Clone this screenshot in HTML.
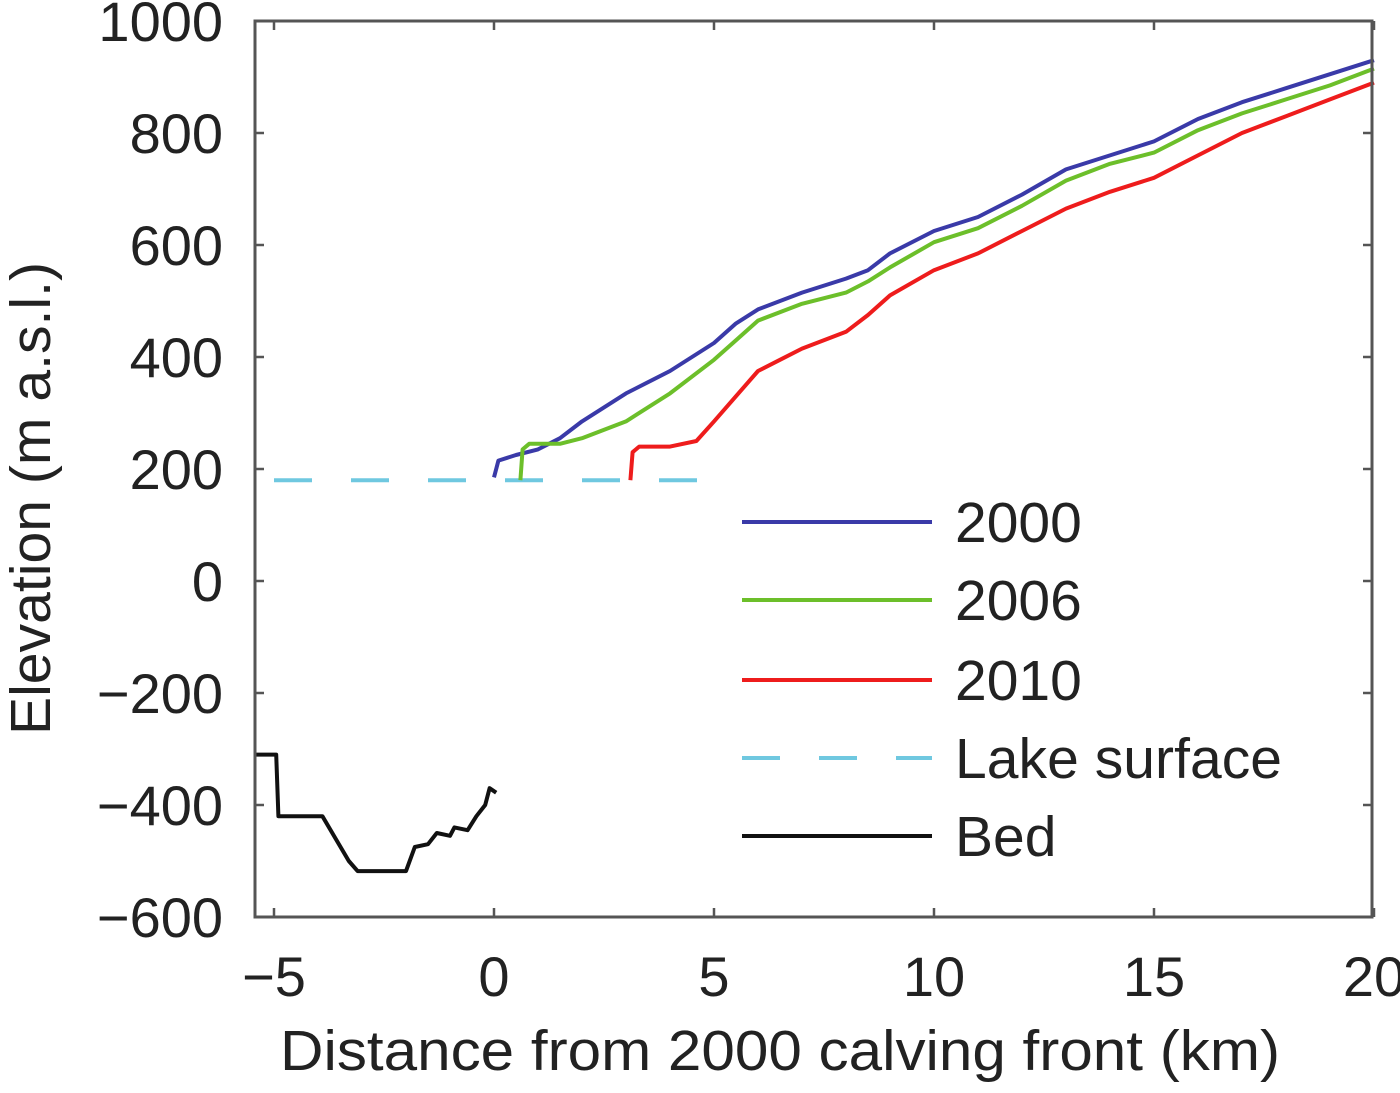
<!DOCTYPE html>
<html><head><meta charset="utf-8"><style>
body{margin:0;background:#fff;}
svg text{font-family:"Liberation Sans",sans-serif;fill:#222;}
</style></head><body>
<svg width="1400" height="1088" viewBox="0 0 1400 1088" xmlns="http://www.w3.org/2000/svg">
<g id="plot"></g>
</svg>
<script>
const xTicks=[-5,0,5,10,15,20];
const yTicks=[1000,800,600,400,200,0,-200,-400,-600];
const s2000x=[0,0.1,0.5,1,1.5,2,3,4,5,5.5,6,7,8,8.5,9,10,11,12,13,14,15,16,17,18,19,20];
const s2000y=[185,215,225,235,255,285,335,375,425,460,485,515,540,555,585,625,650,690,735,760,785,825,855,880,905,930];
const s2006x=[0.6,0.65,0.8,1.5,2,3,4,5,5.5,6,7,8,8.5,9,10,11,12,13,14,15,16,17,18,19,20];
const s2006y=[180,235,245,245,255,285,335,395,430,465,495,515,535,560,605,630,670,715,745,765,805,835,860,885,915];
const s2010x=[3.1,3.15,3.3,4,4.6,5,5.5,6,6.5,7,8,8.5,9,10,11,12,13,14,15,16,17,18,19,20];
const s2010y=[180,230,240,240,250,285,330,375,395,415,445,475,510,555,585,625,665,695,720,760,800,830,860,890];
const lakeX=[-5,4.9];
const lakeY=[180,180];
const bedX=[-5.45,-4.95,-4.9,-3.9,-3.6,-3.3,-3.1,-2,-1.8,-1.5,-1.3,-1.0,-0.9,-0.6,-0.4,-0.2,-0.1,0.05];
const bedY=[-310,-310,-420,-420,-460,-500,-518,-518,-475,-470,-450,-455,-440,-445,-420,-400,-370,-378];
const legendLabels=["2000","2006","2010","Lake surface","Bed"];

const PX0=255,PX1=1372,PY0=21,PY1=917;
function sx(v){return 274+(v+5)*44;}
function sy(v){return 21+(1000-v)*0.56;}
const NS="http://www.w3.org/2000/svg";
const g=document.getElementById('plot');
function el(t,a){const e=document.createElementNS(NS,t);for(const k in a)e.setAttribute(k,a[k]);g.appendChild(e);return e;}
function series(xs,ys,color,name,dash){
  const d=xs.map((x,i)=>(i?'L':'M')+sx(x).toFixed(1)+','+sy(ys[i]).toFixed(1)).join(' ');
  const p=el('path',{d:d,fill:'none',stroke:color,'stroke-width':4,'stroke-linejoin':'round'});
  if(dash)p.setAttribute('stroke-dasharray',dash);
  
  
}
xTicks.forEach(t=>{
  const x=sx(t);
  const a=el('line',{x1:x,y1:PY1,x2:x,y2:PY1-9,stroke:'#555','stroke-width':2.5});
  
  el('line',{x1:x,y1:PY0,x2:x,y2:PY0+9,stroke:'#555','stroke-width':2.5});
  const tx=el('text',{x:x,y:996,'font-size':56,'text-anchor':'middle'});
  tx.textContent=(t<0?'\u2212'+(-t):t);
  
});
yTicks.forEach(t=>{
  const y=sy(t);
  const a=el('line',{x1:PX0,y1:y,x2:PX0+9,y2:y,stroke:'#555','stroke-width':2.5});
  
  el('line',{x1:PX1,y1:y,x2:PX1-9,y2:y,stroke:'#555','stroke-width':2.5});
  const tx=el('text',{x:223,y:y+20,'font-size':56,'text-anchor':'end'});
  tx.textContent=(t<0?'\u2212'+(-t):t);
  
});
series(lakeX,lakeY,'#6fc8e0','lake-surface-line','38 39');
series(bedX,bedY,'#111','bed-line');
series(s2000x,s2000y,'#3a3aa8','series-2000');
series(s2006x,s2006y,'#6cbf2a','series-2006');
series(s2010x,s2010y,'#ee1c1c','series-2010');
const box=el('rect',{x:PX0,y:PY0,width:PX1-PX0,height:PY1-PY0,fill:'none',stroke:'#555','stroke-width':3});

const lc=['#3a3aa8','#6cbf2a','#ee1c1c','#6fc8e0','#111'];
const ly=[522,600,680,758,836];
legendLabels.forEach((l,i)=>{
  const ln=el('line',{x1:742,y1:ly[i],x2:932,y2:ly[i],stroke:lc[i],'stroke-width':4});
  if(i==3)ln.setAttribute('stroke-dasharray','38 39');
  
  const t=el('text',{x:955,y:ly[i]+20,'font-size':57});
  t.textContent=l;
  if(i==3)t.setAttribute('textLength',327);
  
});
const xl=el('text',{x:280,y:1070,'font-size':57,textLength:1000,lengthAdjust:'spacingAndGlyphs'});
xl.textContent='Distance from 2000 calving front (km)';

const yl=el('text',{x:0,y:0,'font-size':57,textLength:473,lengthAdjust:'spacingAndGlyphs',transform:'translate(50,735) rotate(-90)'});
yl.textContent='Elevation (m a.s.l.)';

</script>
</body></html>
